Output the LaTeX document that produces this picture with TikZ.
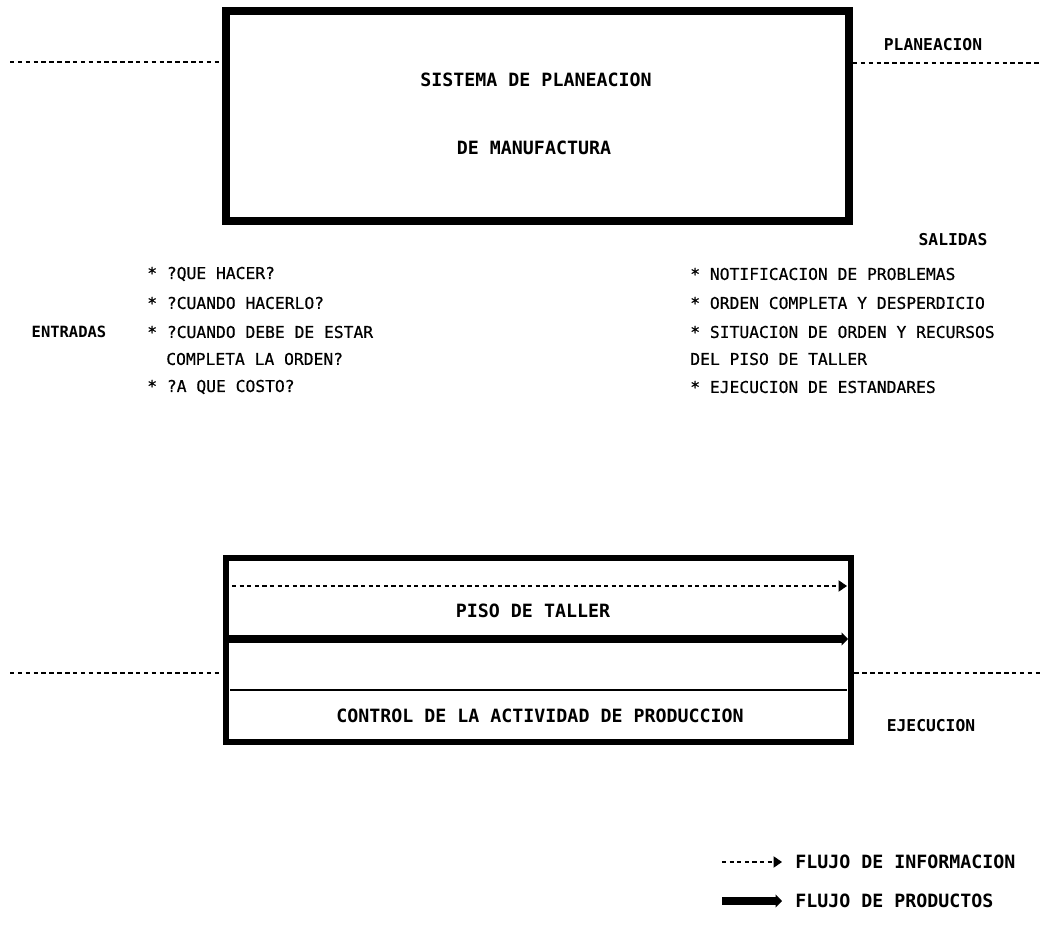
\documentclass[tikz,border=0pt]{standalone}
\usepackage{fontspec}
\setmainfont{DejaVu Sans Mono}
\newfontfamily\fitem{DejaVu Sans Mono}[FakeBold=0.6]
\usetikzlibrary{arrows.meta}
\usetikzlibrary{positioning}
\usepackage{xcolor}

\begin{document}
\begin{tikzpicture}[x=0.025cm, y=-0.025cm,
  caja/.style={draw, line width=5.5pt, inner sep=0},
  sep/.style={dash pattern=on 3.2pt off 2.4pt, line width=1pt},
  info/.style={dash pattern=on 3pt off 2.4pt, line width=0.9pt, -{Triangle[length=6pt,width=8pt]}},
  prod/.style={line width=5.5pt, -{Triangle[length=4.5pt,width=9pt]}},
  item/.style={anchor=west, inner sep=0, font=\fitem\fontsize{11.6}{12}\selectfont},
  titulo/.style={inner sep=0, font=\bfseries\fontsize{13}{14}\selectfont},
  etiqueta/.style={inner sep=0, font=\bfseries\fontsize{11.6}{12}\selectfont}]

\useasboundingbox (0,0) rectangle (1041,925);

% cajas
\node[caja, minimum width=15.575cm, minimum height=5.25cm] (sist) at (537.5,116) {};
\node[caja, line width=4.8pt, minimum width=15.625cm, minimum height=4.6cm] (piso) at (538.5,650) {};

\node[titulo] (t1) at (536,80) {SISTEMA DE PLANEACION};
\node[titulo] (t2) at (534,148) {DE MANUFACTURA};
\node[titulo] (t3) at (533,611) {PISO DE TALLER};
\node[titulo] (t4) at (540,716) {CONTROL DE LA ACTIVIDAD DE PRODUCCION};

% niveles
\coordinate (pI) at (10,62);
\coordinate (pD) at (1040,63);
\coordinate (eI) at (10,673);
\coordinate (eD) at (1040,673);
\draw[sep] (pI) -- (sist.west |- pI);
\draw[sep] (sist.east |- pD) -- (pD);
\draw[sep] (eI) -- (piso.west |- eI);
\draw[sep] (piso.east |- eD) -- (eD);

\node[etiqueta] (plan) at (933,45) {PLANEACION};
\node[etiqueta] (ejec) at (931,726) {EJECUCION};
\node[etiqueta] (sal) at (953,240) {SALIDAS};
\node[etiqueta, font=\bfseries\fontsize{11}{12}\selectfont] (ent) at (69,332) {ENTRADAS};

% entradas
\node[item] (e1) at (147,274) {* ?QUE HACER?};
\node[item] (e2) at (147,303) {* ?CUANDO HACERLO?};
\node[item] (e3) at (147,332) {* ?CUANDO DEBE DE ESTAR};
\node[item] (e4) at (166,359) {COMPLETA LA ORDEN?};
\node[item] (e5) at (147,387) {* ?A QUE COSTO?};

% salidas
\node[item] (s1) at (690,274) {* NOTIFICACION DE PROBLEMAS};
\node[item] (s2) at (690,303) {* ORDEN COMPLETA Y DESPERDICIO};
\node[item] (s3) at (690,332) {* SITUACION DE ORDEN Y RECURSOS};
\node[item] (s4) at (690,359) {DEL PISO DE TALLER};
\node[item] (s5) at (690,387) {* EJECUCION DE ESTANDARES};

% flujos en el piso
\coordinate (a1) at (232,586);
\coordinate (a2) at (847,586);
\coordinate (b1) at (229,639);
\coordinate (b2) at (848,639);
\coordinate (c1) at (230,690);
\coordinate (c2) at (847,690);
\draw[info] (a1) -- (a2);
\draw[prod] (b1) -- (b2);
\draw[line width=1.2pt] (c1) -- (c2);

% leyenda
\node[titulo, anchor=west] (l1) at (795,862) {FLUJO DE INFORMACION};
\node[titulo, anchor=west] (l2) at (795,901) {FLUJO DE PRODUCTOS};
\coordinate (d1) at (722,862);
\coordinate (d2) at (782,862);
\coordinate (f1) at (722,901);
\coordinate (f2) at (782,901);
\draw[info] (d1) -- (l1.west -| d2);
\draw[prod] (f1) -- (l2.west -| f2);

\end{tikzpicture}
\end{document}
